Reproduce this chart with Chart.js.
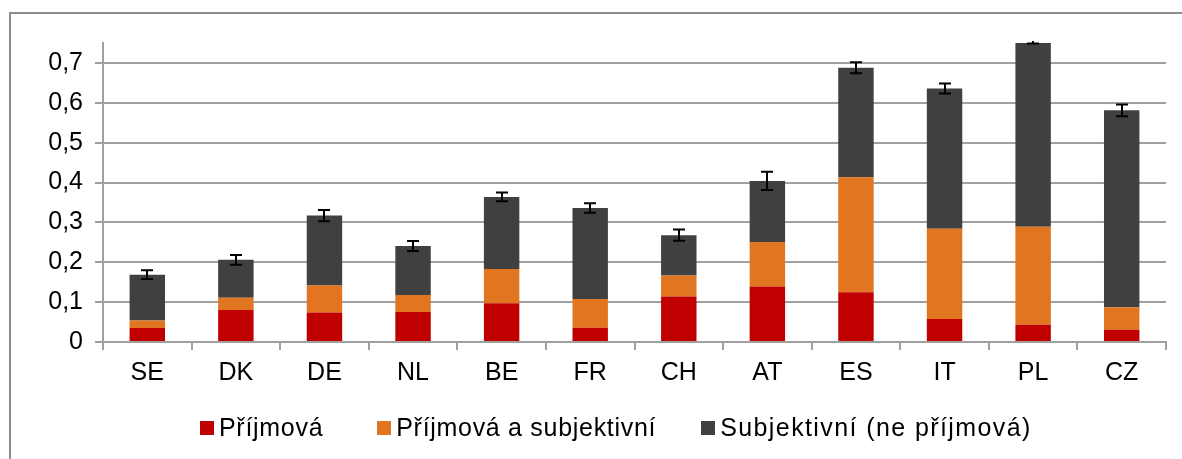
<!DOCTYPE html>
<html>
<head>
<meta charset="utf-8">
<script src="https://cdn.jsdelivr.net/npm/chart.js@4.4.1/dist/chart.umd.min.js"></script>
<style>
  html, body { margin: 0; padding: 0; background: #fff; overflow: hidden; }
  #wrap { position: relative; width: 1182px; height: 459px; }
  #frame { position: absolute; left: 9px; top: 12px; width: 1200px; height: 500px; border: 2px solid #8c8c8c; box-sizing: border-box; }
  #c { position: absolute; left: 0; top: 0; }
  #legend { position: absolute; left: 200px; top: 412px; display: flex; align-items: center;
            font-family: "Liberation Sans", Arial, sans-serif; font-size: 25px; line-height: 30px; color: #000; letter-spacing: 0.7px; white-space: nowrap; }
  #legend .item { display: flex; align-items: center; }
  #legend .box { width: 14px; height: 14px; margin-right: 5px; margin-top: 1px; }
</style>
</head>
<body>
<div id="wrap">
  <div id="frame"></div>
  <canvas id="c" width="1182" height="459"></canvas>
  <div id="legend"></div>
</div>
<script>
const categories = ["SE", "DK", "DE", "NL", "BE", "FR", "CH", "AT", "ES", "IT", "PL", "CZ"];
const seriesLabels = ["Příjmová", "Příjmová a subjektivní", "Subjektivní (ne příjmová)"];
const prijmova =      [0.035, 0.080, 0.074, 0.075, 0.097, 0.036, 0.114, 0.139, 0.125, 0.058, 0.043, 0.031];
const prijmovaSubj =  [0.019, 0.031, 0.068, 0.043, 0.086, 0.072, 0.053, 0.112, 0.288, 0.226, 0.246, 0.056];
const subjektivni =   [0.115, 0.095, 0.175, 0.123, 0.181, 0.228, 0.101, 0.153, 0.275, 0.352, 0.473, 0.494];
const errors =        [0.011, 0.012, 0.014, 0.0125, 0.011, 0.012, 0.014, 0.023, 0.014, 0.0125, 0.013, 0.0145];
const yTickValues = [0, 0.1, 0.2, 0.3, 0.4, 0.5, 0.6, 0.7];
const colors = ["#C00000", "#E2751F", "#404040"];

const FONT = "'Liberation Sans', Arial, sans-serif";

const errorBars = {
  id: 'errorBars',
  afterDatasetsDraw(chart) {
    const ctx = chart.ctx;
    const y = chart.scales.y;
    const area = chart.chartArea;
    const meta = chart.getDatasetMeta(0);
    ctx.save();
    ctx.beginPath();
    ctx.rect(area.left, area.top - 2, area.right - area.left, area.bottom - area.top + 2);
    ctx.clip();
    ctx.strokeStyle = '#000';
    ctx.lineWidth = 2;
    categories.forEach((c, i) => {
      let total = 0;
      chart.data.datasets.forEach(ds => total += ds.data[i]);
      const x = Math.round(meta.data[i].x);
      const yt = y.getPixelForValue(total + errors[i]);
      const yb = y.getPixelForValue(total - errors[i]);
      ctx.beginPath();
      ctx.moveTo(x, yt); ctx.lineTo(x, yb);
      ctx.moveTo(x - 6, yt); ctx.lineTo(x + 6, yt);
      ctx.moveTo(x - 6, yb); ctx.lineTo(x + 6, yb);
      ctx.stroke();
    });
    ctx.restore();
  }
};

const chart = new Chart(document.getElementById('c'), {
  type: 'bar',
  data: {
    labels: categories,
    datasets: [
      { label: seriesLabels[0], data: prijmova, backgroundColor: colors[0] },
      { label: seriesLabels[1], data: prijmovaSubj, backgroundColor: colors[1] },
      { label: seriesLabels[2], data: subjektivni, backgroundColor: colors[2] }
    ]
  },
  options: {
    responsive: false,
    animation: false,
    devicePixelRatio: 1,
    layout: { padding: { top: 43, right: 16, left: 0, bottom: 0 } },
    datasets: { bar: { barPercentage: 0.4, categoryPercentage: 1.0 } },
    plugins: { legend: { display: false }, tooltip: { enabled: false } },
    scales: {
      x: {
        stacked: true,
        grid: { drawOnChartArea: false, drawTicks: true, tickLength: 8, color: '#a0a0a0', lineWidth: 2, offset: true },
        border: { display: true, color: '#a0a0a0', width: 2 },
        ticks: { font: { family: FONT, size: 25 }, color: '#000', padding: 8 },
        afterFit(scale) { scale.height = 117; }
      },
      y: {
        stacked: true,
        min: 0,
        max: 0.75,
        afterBuildTicks(scale) { scale.ticks = yTickValues.map(v => ({ value: v })); },
        ticks: {
          font: { family: FONT, size: 25 }, color: '#000', padding: 12,
          callback: (v) => String(Math.round(v * 10) / 10).replace('.', ',')
        },
        grid: { color: '#a0a0a0', lineWidth: 2, tickLength: 8 },
        border: { display: true, color: '#a0a0a0', width: 2 },
        afterFit(scale) { scale.width = 103; }
      }
    }
  },
  plugins: [errorBars]
});

const legend = document.getElementById('legend');
const legendGaps = [54, 45, 0];
const legendSpacing = [0.7, 0.7, 1.4];
chart.data.datasets.forEach((ds, i) => {
  const item = document.createElement('div');
  item.className = 'item';
  item.style.marginRight = legendGaps[i] + 'px';
  const box = document.createElement('span');
  box.className = 'box';
  box.style.background = ds.backgroundColor;
  const txt = document.createElement('span');
  txt.textContent = ds.label;
  txt.style.letterSpacing = legendSpacing[i] + 'px';
  item.appendChild(box); item.appendChild(txt);
  legend.appendChild(item);
});
</script>
</body>
</html>
